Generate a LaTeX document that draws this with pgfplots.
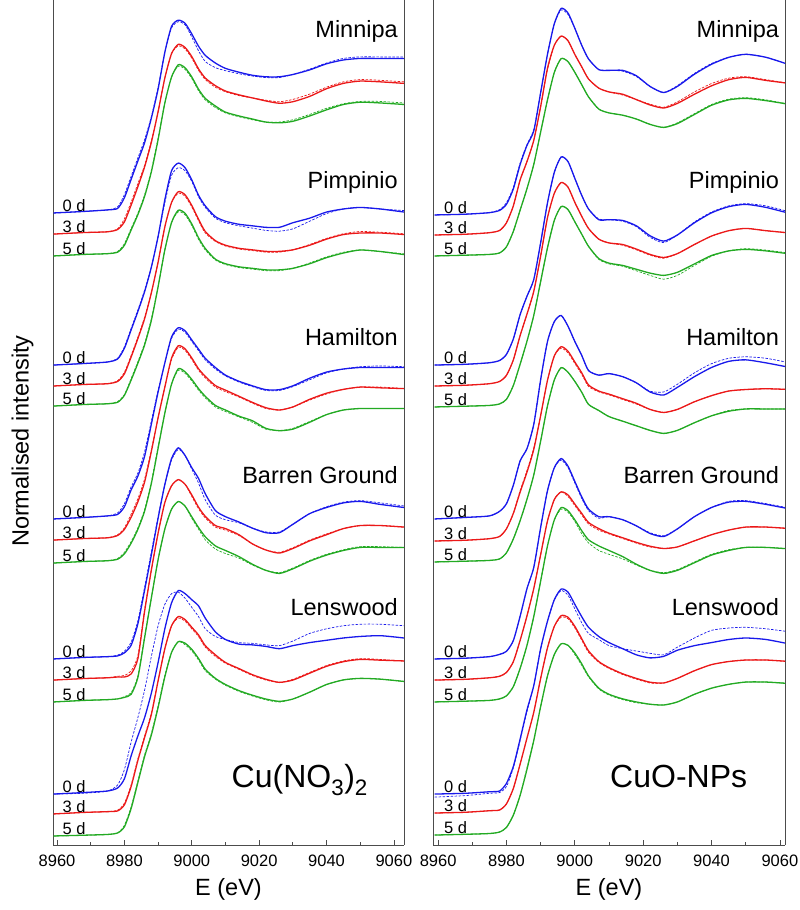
\documentclass[border=0pt]{standalone}
\usepackage{pgfplots}
\usepackage{pgfplotstable}
\pgfplotsset{compat=1.18}
\usepackage{fontspec}
\setmainfont{Liberation Sans}
\definecolor{cb}{RGB}{25,25,235}
\definecolor{cr}{RGB}{235,25,25}
\definecolor{cg}{RGB}{35,170,35}

% ---------- Cu(NO3)2 panel (normalised, each curve relative to its own baseline)
\pgfplotstableread{
E b r g bd rd gd
8959 0 0 0 0 0 0
8968 0.01 0.01 0.01 0.01 0.01 0.01
8975 0.02 0.015 0.015 0.02 0.015 0.015
8978 0.03 0.03 0.025 0.04 0.035 0.03
8980 0.10 0.08 0.07 0.12 0.10 0.08
8982 0.22 0.19 0.17 0.24 0.21 0.18
8984 0.34 0.31 0.27 0.36 0.33 0.28
8986 0.46 0.44 0.39 0.48 0.45 0.40
8988 0.62 0.60 0.55 0.63 0.61 0.56
8990 0.81 0.80 0.76 0.82 0.80 0.77
8992 1.05 1.02 1.00 1.05 1.02 1.00
8994 1.22 1.18 1.17 1.21 1.18 1.17
8996 1.26 1.24 1.25 1.25 1.23 1.24
8998 1.24 1.22 1.23 1.23 1.21 1.22
9000 1.17 1.16 1.17 1.15 1.15 1.16
9002 1.09 1.08 1.09 1.06 1.07 1.08
9004 1.03 1.02 1.03 0.99 1.01 1.02
9007 0.98 0.97 0.98 0.95 0.96 0.97
9010 0.945 0.935 0.94 0.93 0.93 0.935
9014 0.92 0.91 0.915 0.91 0.905 0.91
9018 0.90 0.89 0.895 0.895 0.89 0.89
9022 0.89 0.87 0.875 0.885 0.875 0.875
9026 0.89 0.855 0.87 0.885 0.865 0.875
9030 0.905 0.865 0.88 0.905 0.88 0.89
9035 0.935 0.90 0.915 0.94 0.915 0.925
9040 0.975 0.95 0.955 0.98 0.96 0.965
9045 1.00 0.985 0.99 1.01 0.995 0.995
9050 1.01 1.00 1.005 1.02 1.01 1.01
9056 1.01 0.995 1.00 1.02 1.005 1.01
9063 1.01 0.985 0.99 1.02 0.995 1.00
}\LA
\pgfplotstableread{
E b r g bd rd gd
8959 0 0 0 0 0 0
8968 0.01 0.01 0.01 0.01 0.01 0.01
8975 0.02 0.015 0.015 0.02 0.015 0.015
8978 0.04 0.03 0.025 0.045 0.035 0.03
8980 0.11 0.08 0.07 0.12 0.09 0.075
8982 0.23 0.19 0.17 0.24 0.20 0.18
8984 0.35 0.31 0.28 0.36 0.32 0.29
8986 0.48 0.44 0.40 0.49 0.45 0.41
8988 0.64 0.61 0.56 0.64 0.61 0.57
8990 0.84 0.81 0.78 0.84 0.81 0.78
8992 1.08 1.04 1.02 1.06 1.04 1.02
8994 1.27 1.20 1.20 1.24 1.20 1.20
8996 1.32 1.27 1.28 1.29 1.26 1.27
8998 1.29 1.25 1.26 1.27 1.24 1.25
9000 1.21 1.18 1.19 1.20 1.17 1.18
9002 1.11 1.09 1.10 1.10 1.08 1.09
9004 1.04 1.01 1.03 1.03 1.00 1.02
9007 0.97 0.95 0.96 0.96 0.945 0.955
9010 0.94 0.92 0.93 0.93 0.915 0.925
9014 0.92 0.90 0.91 0.91 0.895 0.905
9018 0.91 0.89 0.90 0.895 0.885 0.895
9022 0.90 0.88 0.89 0.88 0.875 0.885
9026 0.90 0.88 0.89 0.875 0.875 0.885
9030 0.93 0.89 0.90 0.89 0.89 0.90
9035 0.96 0.92 0.93 0.94 0.925 0.935
9040 1.00 0.96 0.97 0.99 0.965 0.975
9045 1.02 0.99 1.00 1.02 0.995 1.005
9050 1.03 1.00 1.02 1.03 1.01 1.02
9056 1.02 1.00 1.01 1.02 1.005 1.01
9063 1.00 0.99 0.99 1.01 0.995 0.995
}\LB
\pgfplotstableread{
E b r g bd rd gd
8959 0 0 0 0 0 0
8968 0.01 0.01 0.01 0.01 0.01 0.01
8975 0.02 0.015 0.015 0.02 0.015 0.015
8978 0.03 0.03 0.025 0.04 0.035 0.03
8980 0.08 0.07 0.06 0.10 0.08 0.07
8982 0.19 0.15 0.13 0.21 0.17 0.14
8984 0.28 0.25 0.22 0.30 0.27 0.23
8986 0.41 0.38 0.34 0.44 0.40 0.35
8988 0.62 0.58 0.52 0.64 0.59 0.53
8990 0.83 0.80 0.75 0.84 0.80 0.76
8992 1.02 1.00 0.98 1.02 1.00 0.98
8994 1.19 1.19 1.17 1.18 1.18 1.17
8996 1.25 1.27 1.27 1.24 1.26 1.26
8998 1.23 1.25 1.25 1.22 1.24 1.24
9000 1.17 1.19 1.20 1.16 1.18 1.19
9002 1.11 1.12 1.14 1.10 1.11 1.13
9004 1.05 1.07 1.09 1.04 1.06 1.08
9007 0.99 1.01 1.03 0.98 1.00 1.02
9010 0.94 0.98 1.00 0.935 0.97 0.99
9014 0.90 0.94 0.96 0.895 0.935 0.955
9018 0.87 0.90 0.93 0.865 0.895 0.92
9022 0.845 0.865 0.88 0.84 0.86 0.875
9026 0.845 0.85 0.865 0.84 0.85 0.865
9030 0.87 0.87 0.875 0.865 0.87 0.88
9035 0.92 0.92 0.92 0.91 0.915 0.925
9040 0.96 0.96 0.97 0.955 0.955 0.97
9045 0.98 0.985 1.00 0.98 0.985 1.00
9050 0.99 1.00 1.01 0.995 1.00 1.01
9056 0.99 0.995 1.01 1.00 1.00 1.01
9063 0.99 0.99 1.01 0.995 0.99 1.01
}\LC
\pgfplotstableread{
E b r g bd rd gd
8959 0 0 0 0 0 0
8968 0.01 0.01 0.01 0.01 0.01 0.01
8975 0.015 0.015 0.015 0.015 0.015 0.015
8978 0.02 0.02 0.02 0.025 0.025 0.02
8980 0.04 0.02 0.03 0.05 0.03 0.035
8982 0.09 0.04 0.05 0.11 0.06 0.06
8984 0.23 0.14 0.16 0.25 0.16 0.17
8986 0.45 0.45 0.42 0.47 0.46 0.43
8988 0.68 0.72 0.68 0.70 0.72 0.68
8990 0.92 0.96 0.93 0.93 0.96 0.93
8992 1.14 1.16 1.13 1.14 1.16 1.13
8994 1.31 1.27 1.26 1.30 1.27 1.26
8996 1.38 1.31 1.31 1.37 1.31 1.31
8998 1.33 1.28 1.28 1.33 1.28 1.28
9000 1.25 1.21 1.21 1.24 1.20 1.20
9002 1.18 1.13 1.14 1.15 1.12 1.13
9004 1.08 1.07 1.08 1.04 1.06 1.06
9007 0.97 1.01 1.02 0.94 1.00 1.00
9010 0.93 0.99 0.99 0.91 0.98 0.97
9014 0.895 0.95 0.95 0.89 0.945 0.94
9018 0.855 0.89 0.90 0.855 0.89 0.895
9022 0.825 0.85 0.86 0.83 0.85 0.86
9026 0.825 0.83 0.84 0.83 0.835 0.845
9030 0.88 0.86 0.87 0.88 0.865 0.875
9035 0.95 0.91 0.92 0.95 0.915 0.925
9040 0.99 0.95 0.96 0.995 0.955 0.965
9045 1.02 0.99 0.99 1.025 0.99 0.995
9050 1.03 1.01 1.01 1.035 1.01 1.015
9056 1.01 1.01 1.01 1.02 1.01 1.015
9063 0.99 1.00 1.01 1.00 1.00 1.01
}\LD
\pgfplotstableread{
E b r g bd rd gd
8959 0 0 0 0 0 0
8968 0.01 0.01 0.005 0.005 0.01 0.005
8975 0.02 0.015 0.01 0.02 0.015 0.01
8978 0.04 0.02 0.02 0.06 0.025 0.02
8980 0.10 0.06 0.06 0.16 0.07 0.07
8982 0.25 0.18 0.18 0.34 0.19 0.19
8984 0.38 0.35 0.35 0.50 0.36 0.36
8986 0.50 0.50 0.52 0.68 0.51 0.53
8988 0.66 0.65 0.66 0.90 0.66 0.67
8990 0.86 0.87 0.84 1.10 0.87 0.85
8992 1.08 1.08 1.04 1.24 1.08 1.05
8994 1.25 1.23 1.20 1.31 1.23 1.20
8996 1.33 1.29 1.27 1.32 1.28 1.27
8998 1.31 1.27 1.26 1.28 1.26 1.25
9000 1.27 1.22 1.22 1.22 1.21 1.21
9002 1.23 1.17 1.16 1.16 1.16 1.15
9004 1.15 1.10 1.09 1.08 1.09 1.08
9007 1.06 1.04 1.03 1.03 1.03 1.025
9010 1.01 0.99 0.99 1.01 0.985 0.985
9014 0.98 0.95 0.95 0.99 0.945 0.945
9018 0.975 0.91 0.92 0.985 0.905 0.915
9022 0.965 0.88 0.895 0.975 0.875 0.89
9026 0.95 0.86 0.88 0.97 0.86 0.875
9030 0.97 0.875 0.895 1.00 0.88 0.895
9035 0.99 0.92 0.94 1.05 0.925 0.94
9040 1.005 0.965 0.99 1.08 0.97 0.99
9045 1.02 0.995 1.02 1.10 1.00 1.02
9050 1.03 1.01 1.03 1.11 1.015 1.03
9056 1.035 1.005 1.025 1.11 1.01 1.025
9063 1.02 1.00 1.01 1.10 1.00 1.01
}\LE

% ---------- CuO-NPs panel
\pgfplotstableread{
E b r g bd rd gd
8959 0 0 0 0 0 0
8968 0.005 0.005 0.005 0.005 0.005 0.005
8975 0.015 0.015 0.01 0.015 0.015 0.01
8978 0.03 0.03 0.02 0.035 0.03 0.02
8980 0.07 0.08 0.06 0.08 0.08 0.06
8982 0.17 0.19 0.16 0.18 0.19 0.16
8984 0.33 0.36 0.30 0.34 0.36 0.30
8986 0.455 0.48 0.44 0.46 0.48 0.44
8988 0.55 0.62 0.60 0.56 0.62 0.60
8990 0.80 0.84 0.81 0.80 0.84 0.81
8992 1.05 1.09 1.02 1.05 1.08 1.02
8994 1.25 1.24 1.20 1.25 1.24 1.20
8996 1.35 1.30 1.29 1.34 1.30 1.29
8998 1.32 1.27 1.27 1.31 1.27 1.27
9000 1.22 1.18 1.20 1.22 1.18 1.20
9002 1.11 1.10 1.12 1.11 1.10 1.12
9004 1.02 1.02 1.04 1.02 1.02 1.04
9007 0.95 0.96 0.96 0.95 0.96 0.96
9010 0.945 0.935 0.935 0.945 0.935 0.935
9014 0.945 0.92 0.92 0.94 0.915 0.92
9018 0.91 0.885 0.895 0.905 0.885 0.895
9022 0.84 0.85 0.86 0.84 0.855 0.86
9026 0.80 0.83 0.84 0.80 0.835 0.84
9030 0.84 0.86 0.865 0.845 0.87 0.87
9035 0.92 0.92 0.925 0.925 0.935 0.93
9040 0.985 0.975 0.985 0.99 0.99 0.99
9045 1.03 1.015 1.02 1.03 1.025 1.025
9050 1.05 1.03 1.03 1.05 1.035 1.035
9056 1.03 1.01 1.015 1.03 1.015 1.02
9063 0.98 0.99 0.99 0.98 0.99 0.99
}\RA
\pgfplotstableread{
E b r g bd rd gd
8959 0 0 0 0 0 0
8968 0.005 0.005 0.005 0.005 0.005 0.005
8975 0.015 0.015 0.01 0.015 0.015 0.01
8978 0.03 0.03 0.02 0.03 0.03 0.02
8980 0.07 0.07 0.05 0.07 0.07 0.05
8982 0.17 0.17 0.14 0.17 0.17 0.14
8984 0.33 0.33 0.28 0.33 0.33 0.28
8986 0.45 0.47 0.43 0.45 0.47 0.43
8988 0.56 0.62 0.60 0.56 0.62 0.60
8990 0.80 0.85 0.82 0.80 0.85 0.82
8992 1.06 1.10 1.04 1.06 1.10 1.04
8994 1.26 1.26 1.22 1.26 1.26 1.22
8996 1.36 1.33 1.31 1.36 1.33 1.31
8998 1.33 1.30 1.29 1.33 1.30 1.29
9000 1.22 1.20 1.21 1.22 1.20 1.21
9002 1.11 1.11 1.13 1.11 1.11 1.13
9004 1.02 1.03 1.05 1.02 1.03 1.05
9007 0.95 0.96 0.97 0.955 0.96 0.965
9010 0.95 0.935 0.94 0.95 0.935 0.935
9014 0.945 0.925 0.925 0.94 0.92 0.92
9018 0.91 0.895 0.90 0.905 0.89 0.89
9022 0.845 0.86 0.875 0.835 0.855 0.86
9026 0.81 0.84 0.86 0.80 0.835 0.835
9030 0.85 0.865 0.88 0.85 0.865 0.86
9035 0.93 0.925 0.935 0.935 0.925 0.925
9040 0.995 0.98 0.99 1.00 0.98 0.985
9045 1.035 1.015 1.02 1.04 1.015 1.02
9050 1.05 1.03 1.03 1.055 1.03 1.035
9056 1.03 1.015 1.02 1.04 1.015 1.025
9063 0.99 1.00 1.00 1.00 1.00 1.005
}\RB
\pgfplotstableread{
E b r g bd rd gd
8959 0 0 0 0 0 0
8968 0.01 0.005 0.005 0.01 0.005 0.005
8975 0.02 0.015 0.01 0.02 0.015 0.01
8978 0.05 0.03 0.02 0.05 0.03 0.02
8980 0.10 0.08 0.06 0.10 0.08 0.06
8982 0.22 0.18 0.15 0.22 0.18 0.15
8984 0.38 0.32 0.27 0.38 0.33 0.27
8986 0.46 0.45 0.41 0.46 0.46 0.41
8988 0.62 0.60 0.57 0.62 0.61 0.57
8990 0.91 0.82 0.79 0.91 0.82 0.79
8992 1.16 1.05 1.02 1.16 1.05 1.02
8994 1.29 1.21 1.19 1.29 1.21 1.19
8996 1.33 1.27 1.27 1.33 1.26 1.27
8998 1.26 1.24 1.24 1.26 1.23 1.24
9000 1.16 1.17 1.18 1.16 1.16 1.18
9002 1.07 1.10 1.11 1.07 1.09 1.11
9004 0.97 1.02 1.03 0.97 1.01 1.03
9007 0.94 0.98 0.99 0.94 0.975 0.99
9010 0.95 0.96 0.95 0.95 0.955 0.95
9014 0.93 0.93 0.92 0.93 0.925 0.92
9018 0.89 0.90 0.89 0.89 0.895 0.89
9022 0.83 0.86 0.86 0.835 0.86 0.86
9026 0.81 0.84 0.84 0.83 0.84 0.84
9030 0.86 0.86 0.86 0.88 0.86 0.86
9035 0.93 0.91 0.91 0.955 0.91 0.91
9040 0.99 0.95 0.955 1.015 0.95 0.955
9045 1.03 0.98 0.985 1.05 0.98 0.99
9050 1.04 0.99 1.00 1.06 0.99 1.00
9056 1.02 0.995 1.00 1.05 0.995 1.00
9063 0.99 0.99 1.00 1.02 0.99 1.00
}\RC
\pgfplotstableread{
E b r g bd rd gd
8959 0 0 0 0 0 0
8968 0.005 0.005 0.005 0.005 0.005 0.005
8975 0.015 0.015 0.01 0.015 0.015 0.01
8978 0.03 0.025 0.02 0.03 0.025 0.02
8980 0.05 0.05 0.04 0.05 0.05 0.04
8982 0.12 0.12 0.10 0.12 0.12 0.10
8984 0.28 0.26 0.22 0.28 0.26 0.22
8986 0.46 0.42 0.37 0.46 0.42 0.37
8988 0.60 0.60 0.56 0.60 0.60 0.56
8990 0.86 0.82 0.79 0.86 0.82 0.79
8992 1.10 1.04 1.02 1.10 1.04 1.02
8994 1.25 1.18 1.19 1.25 1.18 1.19
8996 1.31 1.23 1.27 1.30 1.23 1.26
8998 1.26 1.21 1.25 1.25 1.20 1.24
9000 1.16 1.15 1.19 1.15 1.14 1.18
9002 1.06 1.09 1.12 1.05 1.08 1.10
9004 0.98 1.03 1.06 0.97 1.02 1.04
9007 0.93 0.99 1.02 0.92 0.98 0.99
9010 0.93 0.96 0.99 0.93 0.955 0.965
9014 0.91 0.93 0.95 0.91 0.925 0.935
9018 0.87 0.90 0.90 0.87 0.895 0.895
9022 0.82 0.875 0.86 0.825 0.87 0.86
9026 0.80 0.86 0.84 0.805 0.86 0.845
9030 0.85 0.87 0.86 0.85 0.87 0.865
9035 0.93 0.91 0.91 0.93 0.91 0.915
9040 0.99 0.95 0.96 0.99 0.95 0.965
9045 1.025 0.98 0.99 1.03 0.98 0.995
9050 1.03 1.00 1.01 1.035 1.00 1.01
9056 1.01 1.00 1.01 1.015 1.00 1.01
9063 0.98 0.99 1.00 0.985 0.99 1.00
}\RD
\pgfplotstableread{
E b r g bd rd gd
8959 0 0 0 -0.02 0 0
8968 0.005 0.005 0.005 -0.01 0.005 0.005
8975 0.015 0.015 0.01 0.005 0.015 0.01
8978 0.02 0.02 0.02 0.01 0.02 0.02
8980 0.07 0.06 0.05 0.05 0.06 0.05
8982 0.18 0.16 0.13 0.17 0.16 0.13
8984 0.36 0.32 0.26 0.35 0.32 0.26
8986 0.55 0.49 0.43 0.54 0.49 0.44
8988 0.71 0.66 0.62 0.71 0.66 0.62
8990 0.95 0.88 0.84 0.95 0.88 0.84
8992 1.13 1.08 1.04 1.13 1.08 1.04
8994 1.27 1.22 1.18 1.27 1.22 1.18
8996 1.34 1.29 1.25 1.33 1.28 1.25
8998 1.32 1.28 1.24 1.30 1.27 1.24
9000 1.24 1.22 1.19 1.21 1.21 1.18
9002 1.16 1.14 1.12 1.12 1.13 1.11
9004 1.09 1.06 1.04 1.05 1.05 1.035
9007 1.03 0.99 0.96 1.01 0.985 0.955
9010 0.99 0.95 0.92 0.97 0.945 0.915
9014 0.95 0.91 0.89 0.95 0.905 0.885
9018 0.91 0.88 0.87 0.935 0.875 0.865
9022 0.89 0.855 0.855 0.92 0.85 0.855
9026 0.90 0.85 0.85 0.91 0.85 0.85
9030 0.94 0.88 0.87 0.96 0.88 0.87
9035 0.97 0.93 0.92 1.02 0.93 0.92
9040 0.99 0.97 0.96 1.07 0.97 0.96
9045 1.01 0.99 0.985 1.085 0.99 0.985
9050 1.02 1.00 1.00 1.09 1.00 1.00
9056 1.01 1.00 1.00 1.08 1.00 1.00
9063 0.98 0.99 0.99 1.06 0.99 0.99
}\RE

\newcommand{\fsT}{\fontsize{16.5bp}{19bp}\selectfont}
\newcommand{\fsL}{\fontsize{23.5bp}{27bp}\selectfont}

% #1 table, #2 blue offset, #3 red offset, #4 green offset, #5 label x
\newcommand{\grp}[5]{%
  \addplot[cb, line width=1.3bp, smooth, tension=0.4] table[x=E, y expr=\thisrow{b}+#2] {#1};
  \addplot[cb, line width=0.7bp, dash pattern=on 2.5bp off 1.5bp, smooth, tension=0.4] table[x=E, y expr=\thisrow{bd}+#2] {#1};
  \addplot[cr, line width=1.3bp, smooth, tension=0.4] table[x=E, y expr=\thisrow{r}+#3] {#1};
  \addplot[cr, line width=0.7bp, dash pattern=on 2.5bp off 1.5bp, smooth, tension=0.4] table[x=E, y expr=\thisrow{rd}+#3] {#1};
  \addplot[cg, line width=1.3bp, smooth, tension=0.4] table[x=E, y expr=\thisrow{g}+#4] {#1};
  \addplot[cg, line width=0.7bp, dash pattern=on 2.5bp off 1.5bp, smooth, tension=0.4] table[x=E, y expr=\thisrow{gd}+#4] {#1};
  \node[anchor=base west, inner sep=0pt, font=\fsT] at (axis cs:#5,#2+0.01) {0 d};
  \node[anchor=base west, inner sep=0pt, font=\fsT] at (axis cs:#5,#3+0.01) {3 d};
  \node[anchor=base west, inner sep=0pt, font=\fsT] at (axis cs:#5,#4+0.01) {5 d};
}

\pgfplotsset{
  panel/.style={
    scale only axis, height=845bp, ymin=0, ymax=5.523,
    axis x line*=bottom, axis y line*=box,
    axis line style={black!70, line width=0.8bp},
    ytick=\empty, xtick={8960,8980,...,9060}, minor x tick num=1,
    xtick pos=bottom, tick align=inside,
    major tick length=5bp, minor tick length=3bp,
    tick style={black!70, line width=0.7bp},
    /pgf/number format/1000 sep={},
    /pgf/number format/assume math mode=true,
    xticklabel style={font=\fsT, yshift=-6bp},
    xlabel={E (eV)}, xlabel style={font=\fsL, at={(axis description cs:0.5,-0.052)}, anchor=center},
    clip=true,
  },
}

\begin{document}
\begin{tikzpicture}
\path[use as bounding box] (0,0) rectangle (800bp,910bp);
\begin{axis}[panel, at={(53bp,65bp)}, anchor=south west, width=351bp,
  xmin=8958.8, xmax=9063,
  ylabel={Normalised intensity}, ylabel style={font=\fsL, at={(axis description cs:-0.087,0.478)}, anchor=center}]
  \grp{\LA}{4.131}{3.993}{3.850}{8961.6}
  \grp{\LB}{3.137}{3.000}{2.869}{8961.6}
  \grp{\LC}{2.131}{1.993}{1.843}{8961.6}
  \grp{\LD}{1.216}{1.078}{0.935}{8961.6}
  \grp{\LE}{0.333}{0.203}{0.059}{8961.6}
  \node[anchor=base east, inner sep=0pt, font=\fsL] at (axis cs:9061.2,5.275) {Minnipa};
  \node[anchor=base east, inner sep=0pt, font=\fsL] at (axis cs:9061.2,4.294) {Pimpinio};
  \node[anchor=base east, inner sep=0pt, font=\fsL] at (axis cs:9061.2,3.268) {Hamilton};
  \node[anchor=base east, inner sep=0pt, font=\fsL] at (axis cs:9061.2,2.366) {Barren Ground};
  \node[anchor=base east, inner sep=0pt, font=\fsL] at (axis cs:9061.2,1.497) {Lenswood};
  \node[anchor=base west, inner sep=0pt, font=\fontsize{32bp}{36bp}\selectfont] at (axis cs:9011.8,0.373) {Cu(NO\textsubscript{3})\textsubscript{2}};
\end{axis}
\begin{axis}[panel, at={(433bp,65bp)}, anchor=south west, width=352bp,
  xmin=8958.5, xmax=9061.5]
  \grp{\RA}{4.118}{3.987}{3.850}{8961.7}
  \grp{\RB}{3.137}{3.000}{2.863}{8961.7}
  \grp{\RC}{2.131}{1.987}{1.850}{8961.7}
  \grp{\RD}{1.216}{1.078}{0.935}{8961.7}
  \grp{\RE}{0.333}{0.209}{0.065}{8961.7}
  \node[anchor=base east, inner sep=0pt, font=\fsL] at (axis cs:9059.8,5.275) {Minnipa};
  \node[anchor=base east, inner sep=0pt, font=\fsL] at (axis cs:9059.8,4.294) {Pimpinio};
  \node[anchor=base east, inner sep=0pt, font=\fsL] at (axis cs:9059.8,3.268) {Hamilton};
  \node[anchor=base east, inner sep=0pt, font=\fsL] at (axis cs:9059.8,2.366) {Barren Ground};
  \node[anchor=base east, inner sep=0pt, font=\fsL] at (axis cs:9059.8,1.497) {Lenswood};
  \node[anchor=base west, inner sep=0pt, font=\fontsize{32bp}{36bp}\selectfont] at (axis cs:9010.3,0.379) {CuO-NPs};
\end{axis}
\end{tikzpicture}
\end{document}
